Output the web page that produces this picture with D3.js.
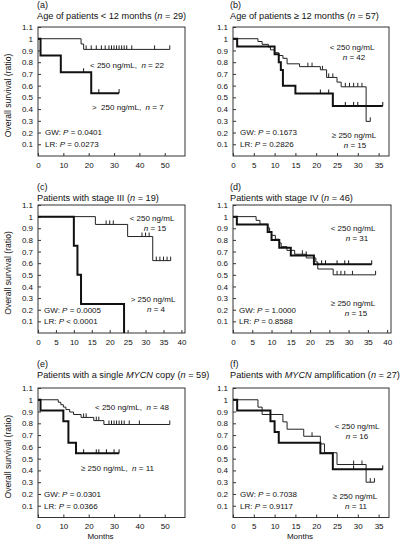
<!DOCTYPE html>
<html><head><meta charset="utf-8">
<script src="https://cdn.jsdelivr.net/npm/d3@7"></script>
<style>body{margin:0;background:#fff}svg{display:block}text{font-family:"Liberation Sans",Arial,sans-serif;fill:#111}</style>
</head><body><svg id="c" width="400" height="543"></svg>
<script>
// ---------- data ----------
const yTickValues = [0.1,0.2,0.3,0.4,0.5,0.6,0.7,0.8,0.9,1,1.1];
const yTickLabels = ["0.1","0.2","0.3","0.4","0.5","0.6","0.7","0.8","0.9","1","1.1"];
const xTicks50 = [0,10,20,30,40,50];
const xTicks40 = [0,5,10,15,20,25,30,35,40];
const xTicks35 = [0,5,10,15,20,25,30,35];

// (a)
const aLowT = [0,17,18,52];
const aLowS = [1,0.955,0.909,0.909];
const aLowC = [19,21,23,25,26.5,28,29,30,31,32,33,34,35,37,46,52];
const aHighT = [0,1,9,21,32];
const aHighS = [1,0.857,0.714,0.536,0.536];
const aHighC = [18,24,32];
// (b)
const bLowT = [0,6,7,8.5,9,10,11,12,13,16,21,22.5,25,26,32,33];
const bLowS = [1,0.976,0.952,0.929,0.905,0.881,0.857,0.833,0.786,0.762,0.735,0.67,0.63,0.59,0.295,0.295];
const bLowC = [18,19,21.5,23,24,27,28,29,30,31,33];
const bHighT = [0,1,10,11,11.5,12,15,24,36];
const bHighS = [1,0.933,0.867,0.8,0.733,0.6,0.533,0.427,0.427];
const bHighC = [21,23,27,29,30,36];
// (c)
const cLowT = [0,16,25,32,37];
const cLowS = [1,0.933,0.829,0.622,0.622];
const cLowC = [19,20,21,29,30,31,33,34,35,36,37];
const cHighT = [0,10,11,12,24];
const cHighS = [1,0.75,0.5,0.25,0];
const cHighC = [];
// (d)
const dLowT = [0,6,7,9,9.5,10,11,12,12.5,14,16,19,21.5,22,26,37];
const dLowS = [1,0.968,0.935,0.903,0.871,0.839,0.806,0.774,0.742,0.71,0.677,0.645,0.61,0.55,0.5,0.5];
const dLowC = [18,27,28,29,31,37];
const dHighT = [0,1,9,10,12,15,21,36];
const dHighS = [1,0.933,0.867,0.8,0.733,0.667,0.59,0.59];
const dHighC = [19,23,24,27,29,30,36];
// (e)
const eLowT = [0,8,9,10,11,12.5,14,17,22,26,52];
const eLowS = [1,0.979,0.958,0.938,0.917,0.896,0.875,0.85,0.823,0.79,0.79];
const eLowC = [18,19,23,24,28,29,30,31,32,33,34,36,40,52];
const eHighT = [0,1,10,12,15,32];
const eHighS = [1,0.909,0.818,0.636,0.545,0.545];
const eHighC = [18,23,24,27,30,32];
// (f)
const fLowT = [0,6,7,12,13,17,21,22,25,32,34];
const fLowS = [1,0.9375,0.875,0.8125,0.75,0.69,0.625,0.55,0.45,0.30,0.30];
const fLowC = [19,29,31,33,34];
const fHighT = [0,1,9,10,11,21,24,36];
const fHighS = [1,0.909,0.818,0.727,0.636,0.545,0.409,0.409];
const fHighC = [29,36];

// ---------- layout ----------
const svg = d3.select("#c");
const panels = [
  {lab:"(a)", title:[["Age of patients < 12 months ("],["n",1],[" = 29)"]], box:[38,27,185,156], xMax:58, xt:xTicks50,
   low:[aLowT,aLowS,aLowC], high:[aHighT,aHighS,aHighC], tx:37, ty:[5,16],
   leg:[{x:90,y:65,a:"start",t:[["< 250 ng/mL,  "],["n",1],[" = 22"]]},{x:92,y:107,a:"start",t:[[">  250 ng/mL,  "],["n",1],[" = 7"]]}],
   gw:["0.0401","0.0273"], gx:45, ylab:true},
  {lab:"(b)", title:[["Age of patients ≥ 12 months ("],["n",1],[" = 57)"]], box:[233,27,389,156], xMax:37.5, xt:xTicks35,
   low:[bLowT,bLowS,bLowC], high:[bHighT,bHighS,bHighC], tx:230, ty:[5,16],
   leg:[{x:352,y:47,a:"middle",t:[["< 250 ng/mL"]]},{x:354,y:57.5,a:"middle",t:[["n",1],[" = 42"]]},
        {x:354,y:135,a:"middle",t:[["≥ 250 ng/mL"]]},{x:355,y:145.5,a:"middle",t:[["n",1],[" = 15"]]}],
   gw:["0.1673","0.2826"], gx:240},
  {lab:"(c)", title:[["Patients with stage III ("],["n",1],[" = 19)"]], box:[38,205,185,333], xMax:41, xt:xTicks40,
   low:[cLowT,cLowS,cLowC], high:[cHighT,cHighS,cHighC], tx:37, ty:[187,198],
   leg:[{x:152,y:218.5,a:"middle",t:[["< 250 ng/mL"]]},{x:155,y:228.5,a:"middle",t:[["n",1],[" = 15"]]},
        {x:153,y:299,a:"middle",t:[["> 250 ng/mL"]]},{x:156,y:309,a:"middle",t:[["n",1],[" = 4"]]}],
   gw:["0.0005","< 0.0001"], gx:44, ylab:true},
  {lab:"(d)", title:[["Patients with stage IV ("],["n",1],[" = 46)"]], box:[233,205,391,333], xMax:41, xt:xTicks40,
   low:[dLowT,dLowS,dLowC], high:[dHighT,dHighS,dHighC], tx:230, ty:[187,198],
   leg:[{x:353,y:228,a:"middle",t:[["< 250 ng/mL"]]},{x:357,y:238,a:"middle",t:[["n",1],[" = 31"]]},
        {x:353,y:303.5,a:"middle",t:[["≥ 250 ng/mL"]]},{x:356,y:313.5,a:"middle",t:[["n",1],[" = 15"]]}],
   gw:["1.0000","0.8588"], gx:239},
  {lab:"(e)", title:[["Patients with a single "],["MYCN",1],[" copy ("],["n",1],[" = 59)"]], box:[38,388,185,517.5], xMax:58, xt:xTicks50,
   low:[eLowT,eLowS,eLowC], high:[eHighT,eHighS,eHighC], tx:37, ty:[364,375],
   leg:[{x:95,y:407,a:"start",t:[["< 250 ng/mL,  "],["n",1],[" = 48"]]},{x:81,y:468,a:"start",t:[["≥ 250 ng/mL,  "],["n",1],[" = 11"]]}],
   gw:["0.0301","0.0366"], gx:44, ylab:true, months:true},
  {lab:"(f)", title:[["Patients with "],["MYCN",1],[" amplification ("],["n",1],[" = 27)"]], box:[233,388,389,517.5], xMax:37.5, xt:xTicks35,
   low:[fLowT,fLowS,fLowC], high:[fHighT,fHighS,fHighC], tx:230, ty:[364,375],
   leg:[{x:357,y:426,a:"middle",t:[["< 250 ng/mL"]]},{x:357,y:436,a:"middle",t:[["n",1],[" = 16"]]},
        {x:355,y:496,a:"middle",t:[["≥ 250 ng/mL"]]},{x:356,y:506,a:"middle",t:[["n",1],[" = 11"]]}],
   gw:["0.7038","0.9117"], gx:240, months:true}
];

function rich(sel, parts){
  parts.forEach(p=>{ const t=sel.append("tspan").text(p[0]); if(p[1]) t.attr("font-style","italic"); });
}
function stepVal(T,S,t){ const i = d3.bisectRight(T,t)-1; return S[Math.max(0,i)]; }

panels.forEach(p=>{
  const [x0,y0,x1,y1] = p.box;
  const x = d3.scaleLinear().domain([0,p.xMax]).range([x0,x1]);
  const y = d3.scaleLinear().domain([0,1.1]).range([y1,y0]);
  const g = svg.append("g");
  g.append("text").attr("x",p.tx).attr("y",p.ty[0]).attr("dy","0.35em").attr("font-size",9).text(p.lab);
  rich(g.append("text").attr("x",p.tx).attr("y",p.ty[1]).attr("dy","0.35em").attr("font-size",9.2), p.title);
  g.append("rect").attr("x",x0).attr("y",y0).attr("width",x1-x0).attr("height",y1-y0)
    .attr("fill","none").attr("stroke","#333").attr("stroke-width",1);
  const ya = g.append("g").attr("transform",`translate(${x0},0)`)
    .call(d3.axisLeft(y).tickValues(yTickValues).tickFormat((d,i)=>yTickLabels[i]).tickSize(-3).tickPadding(5));
  const xa = g.append("g").attr("transform",`translate(0,${y1})`)
    .call(d3.axisBottom(x).tickValues(p.xt).tickSize(-3).tickPadding(6));
  [ya,xa].forEach(a=>{ a.select(".domain").remove(); a.selectAll("line").attr("stroke","#333");
    a.selectAll("text").attr("font-size",8).attr("font-family","Liberation Sans, Arial, sans-serif").attr("fill","#111"); });
  const line = d3.line().x(d=>x(d[0])).y(d=>y(d[1])).curve(d3.curveStepAfter);
  const curves = [[p.low,1,"#222"],[p.high,2,"#111"]];
  curves.forEach(([c,w,col])=>{
    const [T,S,C] = c;
    g.append("path").attr("d",line(T.map((t,i)=>[t,S[i]]))).attr("fill","none")
      .attr("stroke",col).attr("stroke-width",w);
    g.selectAll(null).data(C).enter().append("line")
      .attr("x1",d=>x(d)).attr("x2",d=>x(d))
      .attr("y1",d=>y(stepVal(T,S,d))).attr("y2",d=>y(stepVal(T,S,d))-4)
      .attr("stroke",col).attr("stroke-width",1);
  });
  p.leg.forEach(l=>{
    rich(g.append("text").attr("x",l.x).attr("y",l.y).attr("dy","0.35em").attr("text-anchor",l.a)
      .attr("font-size",8).attr("xml:space","preserve"), l.t);
  });
  const pv = (lab,v)=> v.startsWith("<") ? [[lab+": "],["P",1],[" "+v]] : [[lab+": "],["P",1],[" = "+v]];
  rich(g.append("text").attr("x",p.gx).attr("y",y(0.2)).attr("dy","0.35em").attr("font-size",8), pv("GW",p.gw[0]));
  rich(g.append("text").attr("x",p.gx).attr("y",y(0.1)).attr("dy","0.35em").attr("font-size",8), pv("LR",p.gw[1]));
  if(p.ylab){
    g.append("text").attr("transform",`translate(8,${(y0+y1)/2+4}) rotate(-90)`).attr("dy","0.35em")
      .attr("text-anchor","middle").attr("font-size",8.6).text("Overall survival (ratio)");
  }
  if(p.months){
    g.append("text").attr("x",(x0+x1)/2-11).attr("y",536.5).attr("dy","0.35em").attr("text-anchor","middle")
      .attr("font-size",8).text("Months");
  }
});
</script></body></html>
